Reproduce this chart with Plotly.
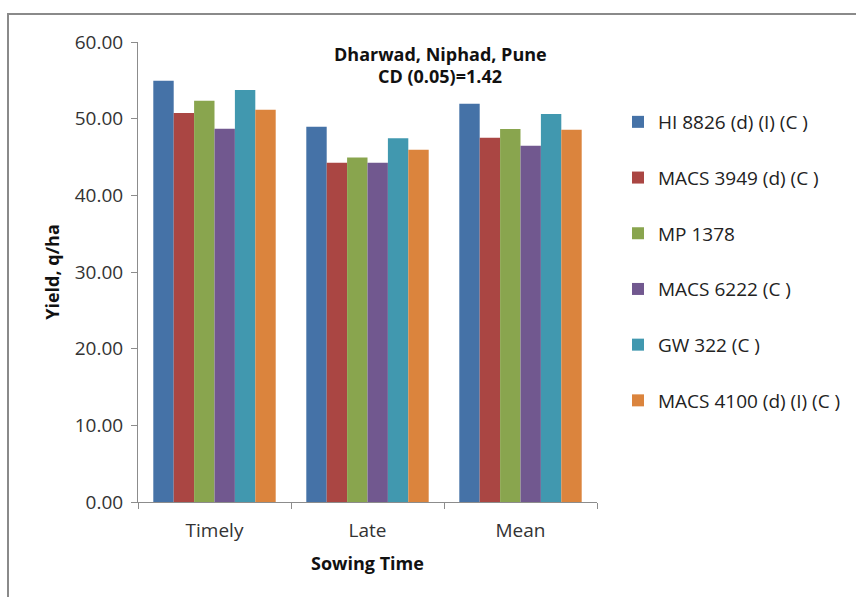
import plotly.graph_objects as go

categories = ["Timely", "Late", "Mean"]
series_names = ["HI 8826 (d) (I) (C )", "MACS 3949 (d) (C )", "MP 1378",
                "MACS 6222 (C )", "GW 322 (C )", "MACS 4100 (d) (I) (C )"]
hi8826 = [54.95, 48.95, 51.95]
macs3949 = [50.75, 44.25, 47.50]
mp1378 = [52.35, 44.95, 48.65]
macs6222 = [48.70, 44.25, 46.48]
gw322 = [53.75, 47.45, 50.60]
macs4100 = [51.15, 45.95, 48.55]
colors = ["#4572A7", "#AA4643", "#89A54E", "#71588F", "#4198AF", "#DB843D"]
y_ticks = [0, 10, 20, 30, 40, 50, 60]

FONT = "Open Sans, Lato, Liberation Sans, sans-serif"

fig = go.Figure()
for i, (name, vals) in enumerate(zip(series_names,
                                     [hi8826, macs3949, mp1378, macs6222, gw322, macs4100])):
    fig.add_trace(go.Bar(x=categories, y=vals, name=name, marker_color=colors[i],
                         marker_line_width=0, legendgroup=str(i)))

W, H = 856, 597
L, R, T, B = 138, 259, 42, 95
pw, ph = W - L - R, H - T - B

def px_x(px):
    return (px - L) / pw

def px_y(py):
    return (H - B - py) / ph

fig.update_layout(
    width=W, height=H,
    margin=dict(l=L, r=R, t=T, b=B, autoexpand=False),
    paper_bgcolor="white", plot_bgcolor="white",
    barmode="group", bargap=0.2, bargroupgap=0,
    font=dict(family=FONT, color="#333333"),
    showlegend=True,
    legend=dict(x=px_x(618), y=px_y(103), xanchor="left", yanchor="top",
                traceorder="grouped", tracegroupgap=28,
                font=dict(size=19, family=FONT, color="#222222"),
                itemwidth=30, bgcolor="rgba(0,0,0,0)"),
    xaxis=dict(showline=True, linecolor="#8c8c8c", linewidth=1,
               ticks="outside", tickson="boundaries", ticklen=6, tickcolor="#8c8c8c",
               ticklabelstandoff=11,
               tickfont=dict(size=19, family=FONT, color="#333333"),
               title=dict(text="<b>Sowing Time</b>", font=dict(size=18, family=FONT, color="#111111"),
                          standoff=15)),
    yaxis=dict(range=[0, 60], tickvals=y_ticks,
               ticktext=[f"{v:.2f}" for v in y_ticks],
               showline=True, linecolor="#8c8c8c", linewidth=1,
               ticks="outside", ticklen=6, tickcolor="#8c8c8c", showgrid=False, zeroline=False,
               ticklabelstandoff=4,
               tickfont=dict(size=19, family=FONT, color="#333333"),
               title=dict(text="<b>Yield, q/ha</b>", font=dict(size=18, family=FONT, color="#111111"),
                          standoff=10)),
    shapes=[dict(type="rect", xref="paper", yref="paper",
                 x0=px_x(8), y0=px_y(620), x1=px_x(870), y1=px_y(14),
                 line=dict(color="#8a8a8a", width=2), fillcolor="rgba(0,0,0,0)", layer="below")],
    annotations=[
        dict(text="<b>Dharwad, Niphad, Pune</b>", x=px_x(440), y=px_y(54), xref="paper", yref="paper",
             xanchor="center", yanchor="middle",
             showarrow=False, font=dict(size=18, family=FONT, color="#111111")),
        dict(text="<b>CD (0.05)=1.42</b>", x=px_x(440), y=px_y(76), xref="paper", yref="paper",
             xanchor="center", yanchor="middle",
             showarrow=False, font=dict(size=18, family=FONT, color="#111111")),
    ],
)

fig.write_html("out.html")
